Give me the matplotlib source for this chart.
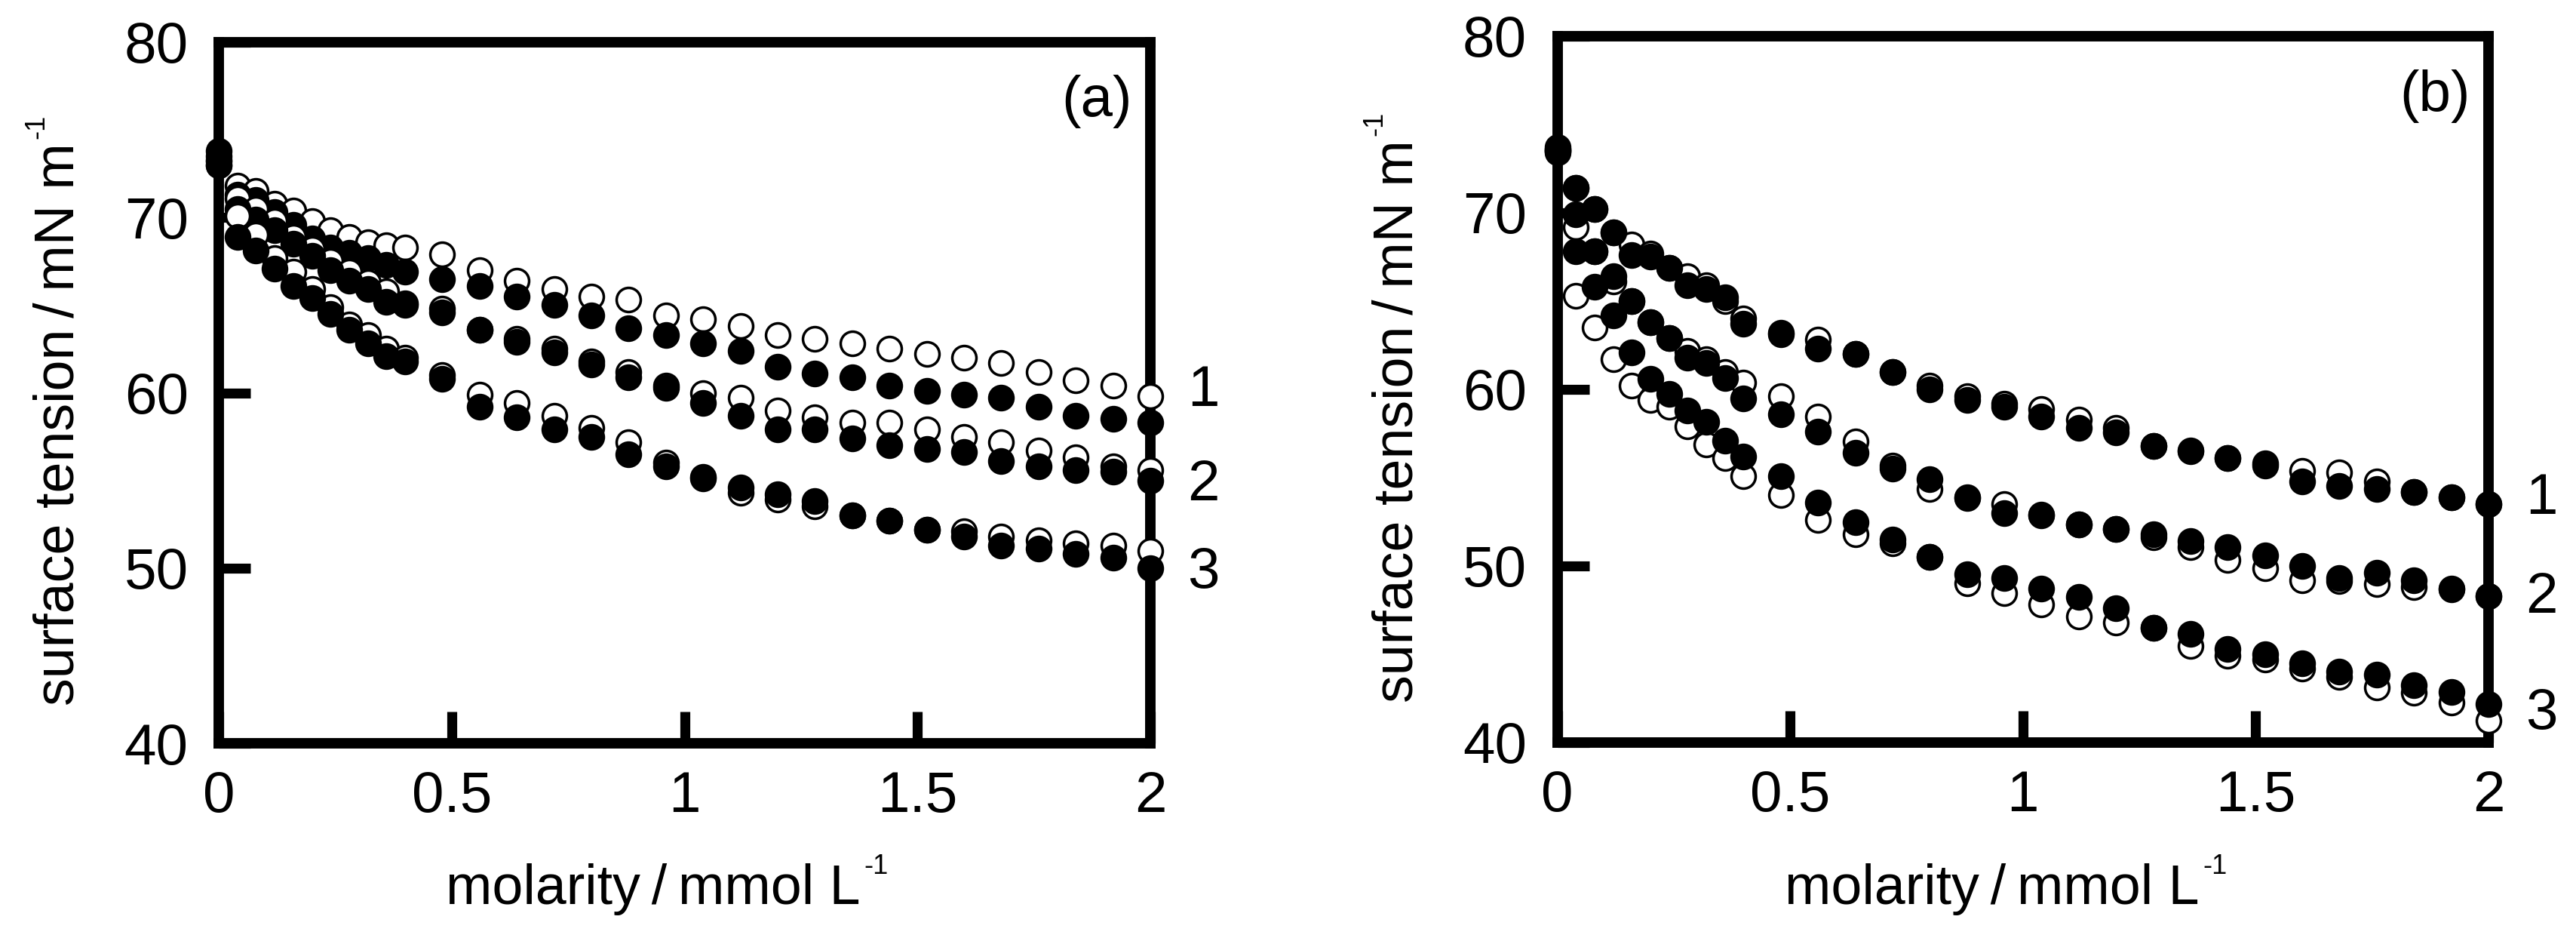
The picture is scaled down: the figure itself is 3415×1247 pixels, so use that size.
import matplotlib
matplotlib.use('Agg')
import matplotlib.pyplot as plt

plt.rcParams['font.family'] = ['Liberation Sans', 'DejaVu Sans']
plt.rcParams['mathtext.fontset'] = 'custom'
plt.rcParams['mathtext.rm'] = 'Liberation Sans'
plt.rcParams['mathtext.it'] = 'Liberation Sans:italic'
plt.rcParams['mathtext.default'] = 'regular'

# ---------------- data ----------------
molarity = [0.00, 0.04, 0.08, 0.12, 0.16, 0.20, 0.24, 0.28, 0.32, 0.36, 0.40,
            0.48, 0.56, 0.64, 0.72, 0.80, 0.88, 0.96,
            1.04, 1.12, 1.20, 1.28, 1.36, 1.44, 1.52, 1.60, 1.68, 1.76, 1.84, 1.92, 2.00]

# panel (a)
a_open1 = [73.5, 71.8, 71.5, 70.8, 70.4, 69.8, 69.3, 68.9, 68.6, 68.4, 68.3,
           67.9, 67.0, 66.4, 65.9, 65.5, 65.3, 64.4,
           64.2, 63.8, 63.3, 63.1, 62.8, 62.5, 62.2, 62.0, 61.7, 61.2, 60.7, 60.4, 59.8]
a_fill1 = [73.8, 71.3, 71.0, 70.3, 69.6, 68.8, 68.3, 68.0, 67.7, 67.3, 66.9,
           66.5, 66.1, 65.5, 65.0, 64.4, 63.7, 63.3,
           62.8, 62.4, 61.5, 61.1, 60.9, 60.4, 60.1, 59.9, 59.7, 59.2, 58.7, 58.5, 58.3]
a_open2 = [73.3, 71.1, 70.5, 69.8, 68.9, 68.2, 67.5, 66.9, 66.3, 65.8, 65.1,
           64.8, 63.6, 63.1, 62.5, 61.8, 61.2, 60.4,
           60.0, 59.7, 59.0, 58.6, 58.3, 58.3, 57.9, 57.5, 57.2, 56.7, 56.3, 55.8, 55.6]
a_fill2 = [73.2, 70.5, 69.9, 69.3, 68.5, 67.8, 67.0, 66.4, 65.9, 65.2, 65.0,
           64.6, 63.6, 62.9, 62.3, 61.6, 60.9, 60.3,
           59.4, 58.7, 57.9, 57.9, 57.4, 57.0, 56.8, 56.6, 56.1, 55.8, 55.6, 55.5, 55.0]
a_open3 = [73.0, 70.1, 69.0, 67.7, 66.9, 65.9, 64.9, 63.9, 63.3, 62.5, 62.0,
           61.0, 59.9, 59.4, 58.7, 58.0, 57.2, 56.0,
           55.2, 54.3, 53.9, 53.5, 53.0, 52.7, 52.2, 52.1, 51.8, 51.6, 51.4, 51.3, 51.0]
a_fill3 = [73.0, 68.9, 68.1, 67.1, 66.1, 65.4, 64.5, 63.6, 62.8, 62.1, 61.8,
           60.8, 59.2, 58.6, 57.9, 57.5, 56.5, 55.8,
           55.1, 54.6, 54.2, 53.8, 53.0, 52.7, 52.2, 51.8, 51.3, 51.1, 50.8, 50.6, 50.0]

# panel (b)
b_open1 = [73.6, 71.4, 70.2, 68.9, 68.2, 67.7, 66.9, 66.4, 65.9, 65.0, 64.0,
           63.2, 62.8, 62.0, 61.0, 60.2, 59.6, 59.2,
           58.9, 58.3, 57.8, 56.8, 56.5, 56.1, 55.8, 55.4, 55.3, 54.8, 54.2, 53.9, 53.5]
b_fill1 = [73.7, 71.4, 70.2, 68.9, 67.6, 67.5, 66.9, 65.9, 65.7, 65.2, 63.7,
           63.1, 62.3, 62.0, 61.0, 60.0, 59.4, 59.0,
           58.45, 57.8, 57.55, 56.8, 56.55, 56.1, 55.7, 54.8, 54.55, 54.35, 54.2, 53.9, 53.5]
b_open2 = [73.5, 69.2, 67.8, 66.1, 65.0, 63.8, 62.9, 62.2, 61.7, 61.0, 60.4,
           59.6, 58.45, 57.05, 55.7, 54.35, 53.86, 53.5,
           52.87, 52.35, 52.1, 51.64, 51.07, 50.35, 49.89, 49.2, 49.16, 48.97, 48.82, 48.69, 48.29]
b_fill2 = [73.6, 69.9, 67.8, 66.4, 65.0, 63.8, 62.9, 61.8, 61.5, 60.65, 59.5,
           58.6, 57.6, 56.4, 55.5, 54.9, 53.9, 53.0,
           52.9, 52.35, 52.1, 51.8, 51.4, 51.05, 50.6, 50.0, 49.3, 49.6, 49.2, 48.7, 48.3]
b_open3 = [73.4, 65.3, 63.5, 61.7, 60.2, 59.4, 59.0, 57.9, 56.9, 56.1, 55.1,
           54.0, 52.6, 51.8, 51.3, 50.5, 49.0, 48.45,
           47.8, 47.15, 46.8, 46.5, 45.45, 44.9, 44.7, 44.2, 43.7, 43.1, 42.8, 42.25, 41.25]
b_fill3 = [73.5, 67.8, 65.8, 64.2, 62.1, 60.6, 59.75, 58.8, 58.15, 57.1, 56.2,
           55.1, 53.6, 52.5, 51.5, 50.5, 49.55, 49.3,
           48.7, 48.25, 47.6, 46.5, 46.15, 45.3, 45.0, 44.5, 44.0, 43.85, 43.25, 42.85, 42.2]

x_ticks = [0, 0.5, 1, 1.5, 2]
x_ticklabels = ['0', '0.5', '1', '1.5', '2']
y_ticks = [40, 50, 60, 70, 80]
curve_labels = ['1', '2', '3']
a_label_y = [60.1, 54.7, 49.7]
b_label_y = [53.8, 48.2, 41.6]
panel_names = ['(a)', '(b)']
ylab_main, ylab_sup = 'surface tension\u2009/\u2009mN m', '-1'
xlab_main, xlab_sup = 'molarity\u2009/\u2009mmol L', '-1'

FS = 55     # tick labels / annotations
FL = 53     # axis labels
FSUP = 26   # superscripts
W, H = 3415, 1247

fig = plt.figure(figsize=(W / 100, H / 100), dpi=100)
axA = fig.add_axes([290 / W, 1 - 985 / H, 1235 / W, 929 / H])
axB = fig.add_axes([2064.5 / W, 1 - 984 / H, 1234.5 / W, 936 / H])


def style(ax):
    ax.set_xlim(0, 2)
    ax.set_ylim(40, 80)
    ax.set_xticks(x_ticks)
    ax.set_xticklabels(x_ticklabels)
    ax.set_yticks(y_ticks)
    for sp in ax.spines.values():
        sp.set_linewidth(10)
        sp.set_capstyle('projecting')
    ax.tick_params(direction='in', length=30, width=9.5, labelsize=FS,
                   top=False, right=False)
    ax.tick_params(axis='x', pad=26)
    ax.tick_params(axis='y', pad=29)


def draw(ax, series, label_y, name):
    style(ax)
    z = 3
    for opn, fil in series:
        ax.plot(molarity, opn, linestyle='none', marker='o', ms=23, mew=2.5,
                mfc='white', mec='black', clip_on=False, zorder=z)
        z += 1
        ax.plot(molarity, fil, linestyle='none', marker='o', ms=23, mew=2.5,
                mfc='black', mec='black', clip_on=False, zorder=z)
        z += 1
    for lab, yv in zip(curve_labels, label_y):
        ax.text(2.08, yv, lab, ha='left', va='center', fontsize=FS, clip_on=False)
    ax.text(1.96, 76.6, name, ha='right', va='center', fontsize=FS)


draw(axA, [(a_open1, a_fill1), (a_open2, a_fill2), (a_open3, a_fill3)], a_label_y, panel_names[0])
draw(axB, [(b_open1, b_fill1), (b_open2, b_fill2), (b_open3, b_fill3)], b_label_y, panel_names[1])

renderer = fig.canvas.get_renderer()


def xlabel_sup(x_left, y_base):
    # x_left, y_base in pixels from top-left
    t = fig.text(x_left / W, 1 - y_base / H, xlab_main, ha='left', va='baseline', fontsize=FL)
    bb = t.get_window_extent(renderer)
    fig.text((bb.x1 + 5) / W, (H - y_base + 40) / H, xlab_sup, ha='left', va='baseline',
             fontsize=FSUP)


def ylabel_sup(x_base, y_start):
    t = fig.text(x_base / W, 1 - y_start / H, ylab_main, rotation=90, rotation_mode='anchor',
                 ha='left', va='baseline', fontsize=FL)
    bb = t.get_window_extent(renderer)
    fig.text((x_base - 40) / W, (bb.y1 + 5) / H, ylab_sup, rotation=90, rotation_mode='anchor',
             ha='left', va='baseline', fontsize=FSUP)


xlabel_sup(591, 1198)
xlabel_sup(591 + 1774.5, 1198)
ylabel_sup(98, 935)
ylabel_sup(98 + 1774.5, 931)

fig.savefig('out.png', dpi=100)
